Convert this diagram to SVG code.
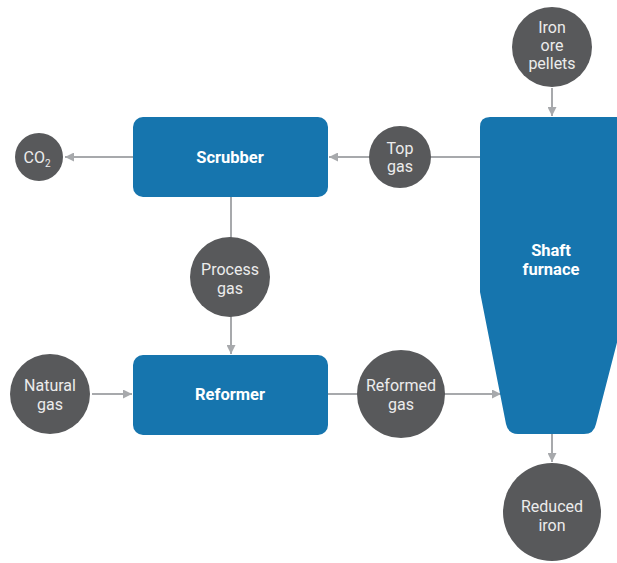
<svg xmlns="http://www.w3.org/2000/svg" width="617" height="563" viewBox="0 0 617 563">
  <style>
    .box { fill: #1675AE; }
    .node { fill: #58595B; }
    .lbl { font-family: Roboto, "Liberation Sans", sans-serif; font-size: 16px; fill: #ECECEC; text-anchor: middle; }
    .blbl { font-family: Roboto, "Liberation Sans", sans-serif; font-size: 16.5px; font-weight: bold; fill: #FFFFFF; text-anchor: middle; }
    .wire { stroke: #A7A9AC; stroke-width: 2; fill: none; }
  </style>
  <defs>
    <marker id="arrow" viewBox="0 0 10 10" refX="10" refY="5" markerWidth="9" markerHeight="9" orient="auto" markerUnits="userSpaceOnUse">
      <path d="M0,0 L10,5 L0,10 Z" fill="#A7A9AC"/>
    </marker>
  </defs>
  <rect width="617" height="563" fill="#FFFFFF"/>

  <g id="connectors">
    <line class="wire" x1="133" y1="157" x2="65" y2="157" marker-end="url(#arrow)"/>
    <line class="wire" x1="480" y1="157" x2="329" y2="157" marker-end="url(#arrow)"/>
    <line class="wire" x1="552" y1="88" x2="552" y2="116" marker-end="url(#arrow)"/>
    <line class="wire" x1="231" y1="197" x2="231" y2="240"/>
    <line class="wire" x1="231" y1="315" x2="231" y2="354" marker-end="url(#arrow)"/>
    <line class="wire" x1="92" y1="394" x2="132" y2="394" marker-end="url(#arrow)"/>
    <line class="wire" x1="328" y1="394" x2="501" y2="394" marker-end="url(#arrow)"/>
    <line class="wire" x1="552" y1="434" x2="552" y2="462" marker-end="url(#arrow)"/>
  </g>

  <g id="co2">
    <circle class="node" cx="39" cy="157" r="24"/>
    <text class="lbl" x="37" y="163">CO<tspan font-size="10" dy="4">2</tspan></text>
  </g>

  <g id="scrubber">
    <rect class="box" x="133" y="117" width="195" height="80" rx="10"/>
    <text class="blbl" x="230" y="163">Scrubber</text>
  </g>

  <g id="top-gas">
    <circle class="node" cx="400" cy="157" r="31"/>
    <text class="lbl" x="400" y="154">Top</text>
    <text class="lbl" x="400" y="172">gas</text>
  </g>

  <g id="iron-ore-pellets">
    <circle class="node" cx="552" cy="47" r="40"/>
    <text class="lbl" x="552" y="33">Iron</text>
    <text class="lbl" x="552" y="51">ore</text>
    <text class="lbl" x="552" y="69">pellets</text>
  </g>

  <g id="shaft-furnace">
    <path class="box" d="M490,117 L630,117 L630,292 L596,424 Q594,434 584,434 L518,434 Q508,434 506,424 L480,292 L480,127 Q480,117 490,117 Z"/>
    <text class="blbl" x="551" y="256">Shaft</text>
    <text class="blbl" x="551" y="275">furnace</text>
  </g>

  <g id="process-gas">
    <circle class="node" cx="230" cy="277" r="40"/>
    <text class="lbl" x="230" y="275">Process</text>
    <text class="lbl" x="230" y="294">gas</text>
  </g>

  <g id="natural-gas">
    <circle class="node" cx="50" cy="394" r="40"/>
    <text class="lbl" x="50" y="391">Natural</text>
    <text class="lbl" x="50" y="410">gas</text>
  </g>

  <g id="reformer">
    <rect class="box" x="133" y="355" width="195" height="80" rx="10"/>
    <text class="blbl" x="230" y="400">Reformer</text>
  </g>

  <g id="reformed-gas">
    <circle class="node" cx="401" cy="394" r="44"/>
    <text class="lbl" x="401" y="391">Reformed</text>
    <text class="lbl" x="401" y="410">gas</text>
  </g>

  <g id="reduced-iron">
    <circle class="node" cx="552" cy="512" r="49"/>
    <text class="lbl" x="552" y="512">Reduced</text>
    <text class="lbl" x="552" y="531">iron</text>
  </g>
</svg>
